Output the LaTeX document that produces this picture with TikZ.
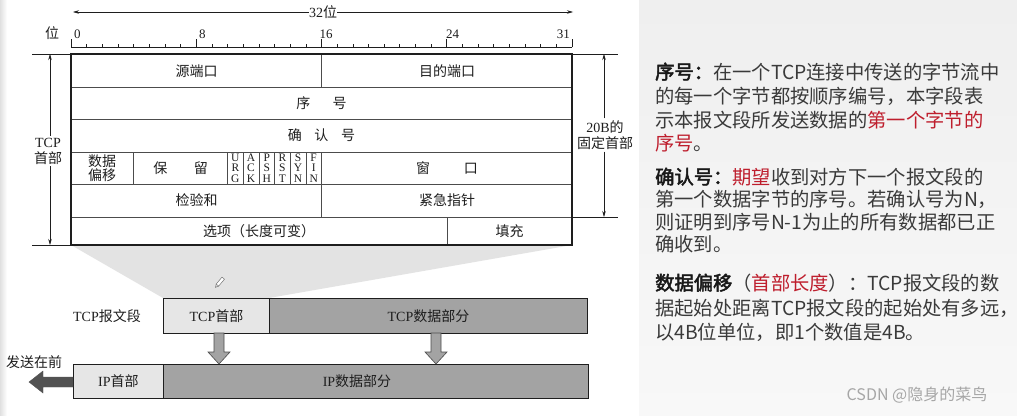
\documentclass[tikz,border=0pt]{standalone}
\usepackage{fontspec}
\setmainfont{Liberation Serif}
\newfontfamily\cjk{Noto Sans CJK SC}
\newfontfamily\cjkb[FakeBold=2.5]{Noto Sans CJK SC}
\usetikzlibrary{arrows.meta}
\definecolor{hdr}{HTML}{E6E6E6}
\definecolor{dat}{HTML}{A3A3A3}
\definecolor{funnel}{HTML}{E3E3E3}
\definecolor{emred}{HTML}{BE1E2D}
\definecolor{bodytxt}{HTML}{3A3A3A}
\definecolor{panel}{HTML}{EFEFEF}
\definecolor{panelb}{HTML}{F8F8F8}
\definecolor{ink}{HTML}{1E1E1E}
\tikzset{
  lbl/.style={inner sep=0pt, text=ink, font=\fontsize{14}{16}\selectfont\cjk},
  num/.style={inner sep=0pt, text=ink, font=\fontsize{13}{14}\selectfont},
  flagtxt/.style={inner sep=0pt, text=ink, align=center, font=\fontsize{11.5}{10.6}\selectfont},
  rt/.style={anchor=base west, inner sep=0pt, text=bodytxt, font=\fontsize{19.3}{23}\selectfont\cjk},
  inner/.style={line width=0.6pt, draw=black!70},
  outer/.style={line width=1.3pt, draw=ink},
  dimarr/.style={line width=0.6pt, draw=ink, -{Stealth[length=6pt,width=3.5pt]}},
  segbox/.style={draw=ink, line width=0.9pt}
}
\begin{document}
\begin{tikzpicture}[x=1pt,y=-1pt]
\useasboundingbox (0,0) rectangle (1017,415);
\fill[white] (0,0) rectangle (1017,415);
\shade[left color=black!12, right color=white] (0,0) rectangle (7,415);
\shade[top color=panel, bottom color=panelb] (639,0) rectangle (1017,415);

% ---- 32 bit arrow
\node[lbl, font=\fontsize{14}{16}\selectfont] (w32) at (323,12) {32{\cjk 位}};
\coordinate (w32l) at (73,12);
\coordinate (w32r) at (573,12);
\draw[dimarr] (w32.west) -- (w32l);
\draw[dimarr] (w32.east) -- (w32r);

% ---- ruler
\node[lbl] (wei) at (52,33) {位};
\draw[line width=0.6pt, ink] (71,47) -- (572,47);
\foreach \i in {0,...,32}{
  \draw[line width=0.6pt, ink] ({71+\i*15.656},47) -- ({71+\i*15.656},43.5);
}
\foreach \i in {0,8,16,24,32}{
  \draw[line width=0.6pt, ink] ({71+\i*15.656},47) -- ({71+\i*15.656},38.5);
}
\node[num, anchor=base west] (n0) at (74,38) {0};
\node[num, anchor=base west] (n8) at (199,38) {8};
\node[num, anchor=base west] (n16) at (319.5,38) {16};
\node[num, anchor=base west] (n24) at (446,38) {24};
\node[num, anchor=base east] (n31) at (570,38) {31};

% ---- funnel
\fill[funnel] (71,245) -- (572,245) -- (269,298) -- (163,298) -- cycle;

% ---- table
\fill[white] (71,54) rectangle (572,245);
\foreach \yy in {87,119,152,184,217}{
  \draw[inner] (71,\yy) -- (572,\yy);
}
\draw[inner] (321.5,54) -- (321.5,87);
\draw[inner] (321.5,152) -- (321.5,217);
\draw[inner] (446.8,217) -- (446.8,245);
\foreach \b in {4,10,11,12,13,14,15}{
  \draw[inner] ({71+\b*15.656},152) -- ({71+\b*15.656},184);
}
\draw[outer] (71,54) rectangle (572,245);

\node[lbl] (src) at (196.5,71) {源端口};
\node[lbl] (dst) at (447,71) {目的端口};
\node[lbl] (seq) at (321.5,103.5) {序\hspace{1.6em}号};
\node[lbl] (ack) at (321.5,135.5) {确\hspace{0.9em}认\hspace{0.9em}号};
\node[lbl, align=center, font=\fontsize{14}{14}\selectfont\cjk] (off) at (102,168) {数据\\偏移};
\node[lbl] (rsv) at (180.6,168) {保\hspace{1.9em}留};
\node[flagtxt] (urg) at ({71+10.5*15.656},168) {U\\R\\G};
\node[flagtxt] (ackf) at ({71+11.5*15.656},168) {A\\C\\K};
\node[flagtxt] (psh) at ({71+12.5*15.656},168) {P\\S\\H};
\node[flagtxt] (rst) at ({71+13.5*15.656},168) {R\\S\\T};
\node[flagtxt] (syn) at ({71+14.5*15.656},168) {S\\Y\\N};
\node[flagtxt] (fin) at ({71+15.5*15.656},168) {F\\I\\N};
\node[lbl] (win) at (447,168) {窗\hspace{2.4em}口};
\node[lbl] (chk) at (196.5,200.5) {检验和};
\node[lbl] (urgp) at (447,200.5) {紧急指针};
\node[lbl] (opt) at (259,231) {选项（长度可变）};
\node[lbl] (pad) at (509.5,231) {填充};

% ---- left dimension (TCP header)
\draw[line width=0.6pt, ink] (32,54) -- (71,54);
\draw[line width=0.6pt, ink] (32,245) -- (71,245);
\coordinate (lt) at (50,54);
\coordinate (lb) at (50,245);
\node[lbl, align=center, fill=white, inner sep=2pt, font=\fontsize{14}{16}\selectfont] (tcphd) at (48,151) {TCP\\{\cjk 首部}};
\draw[dimarr] (tcphd.north -| lt) -- (lt);
\draw[dimarr] (tcphd.south -| lb) -- (lb);

% ---- right dimension (20B)
\draw[line width=0.6pt, ink] (572,54) -- (618,54);
\draw[line width=0.6pt, ink] (572,217) -- (618,217);
\coordinate (rt) at (604,54);
\coordinate (rb) at (604,217);
\node[lbl, align=center, fill=white, inner sep=2pt, font=\fontsize{14}{16}\selectfont] (fix) at (605,135) {20B{\cjk 的}\\{\cjk 固定首部}};
\draw[dimarr] (fix.north -| rt) -- (rt);
\draw[dimarr] (fix.south -| rb) -- (rb);

% ---- pencil cursor
\begin{scope}[shift={(220,282)}, rotate=50]
  \draw[black!55, line width=0.5pt, fill=white] (-4,-1.6) rectangle (5,1.6);
  \draw[black!55, line width=0.5pt] (-4,-1.6) -- (-7,0) -- (-4,1.6);
\end{scope}

% ---- TCP segment
\node[lbl, font=\fontsize{14}{16}\selectfont] (seglbl) at (107,316) {TCP{\cjk 报文段}};
\node[segbox, fill=hdr, minimum width=106pt, minimum height=35pt, anchor=north west, inner sep=0pt, font=\fontsize{14}{16}\selectfont, text=ink] (tcph) at (163,298) {TCP{\cjk 首部}};
\node[segbox, fill=dat, minimum width=318pt, minimum height=35pt, anchor=north west, inner sep=0pt, font=\fontsize{14}{16}\selectfont, text=ink] (tcpd) at (269,298) {TCP{\cjk 数据部分}};

% ---- IP datagram
\node[segbox, fill=hdr, minimum width=90pt, minimum height=34pt, anchor=north west, inner sep=0pt, font=\fontsize{14}{16}\selectfont, text=ink] (iph) at (73,364) {IP{\cjk 首部}};
\node[segbox, fill=dat, minimum width=425pt, minimum height=34pt, anchor=north west, inner sep=0pt] (ipd) at (163,364) {};
\node[lbl, font=\fontsize{14}{16}\selectfont] (ipdl) at (357,381) {IP{\cjk 数据部分}};

% ---- down block arrows
\foreach \ax in {219,436}{
  \filldraw[fill=dat, draw=black!70, line width=0.6pt]
    (\ax-5,333) -- (\ax+5,333) -- (\ax+5,352) -- (\ax+11,352) -- (\ax,364)
    -- (\ax-11,352) -- (\ax-5,352) -- cycle;
}

% ---- send-first arrow
\node[lbl] (send) at (34,362) {发送在前};
\filldraw[fill=black!68, draw=black!68]
  (73,377) -- (43,377) -- (43,371) -- (29,382) -- (43,393) -- (43,387) -- (73,387) -- cycle;

% ---- right panel text
\node[rt] (p1a) at (655,79) {{\cjkb\color{black!90}序号：}在一个TCP连接中传送的字节流中};
\node[rt] (p1b) at (655,103) {的每一个字节都按顺序编号，本字段表};
\node[rt] (p1c) at (655,127.5) {示本报文段所发送数据的\textcolor{emred}{第一个字节的}};
\node[rt] (p1d) at (655,150.5) {\textcolor{emred}{序号}。};

\node[rt] (p2a) at (655,184) {{\cjkb\color{black!90}确认号：}\textcolor{emred}{期望}收到对方下一个报文段的};
\node[rt] (p2b) at (655,206.5) {第一个数据字节的序号。若确认号为N，};
\node[rt] (p2c) at (655,229) {则证明到序号N-1为止的所有数据都已正};
\node[rt] (p2d) at (655,251) {确收到。};

\node[rt] (p3a) at (655,290) {{\cjkb\color{black!90}数据偏移}（\textcolor{emred}{首部长度}）：TCP报文段的数};
\node[rt] (p3b) at (655,315) {据起始处距离TCP报文段的起始处有多远，};
\node[rt] (p3c) at (655,339) {以4B位单位，即1个数值是4B。};

\node[inner sep=0pt, text=black!35, font=\fontsize{16}{18}\selectfont\cjk] (csdn) at (917,395) {CSDN @隐身的菜鸟};
\end{tikzpicture}
\end{document}
